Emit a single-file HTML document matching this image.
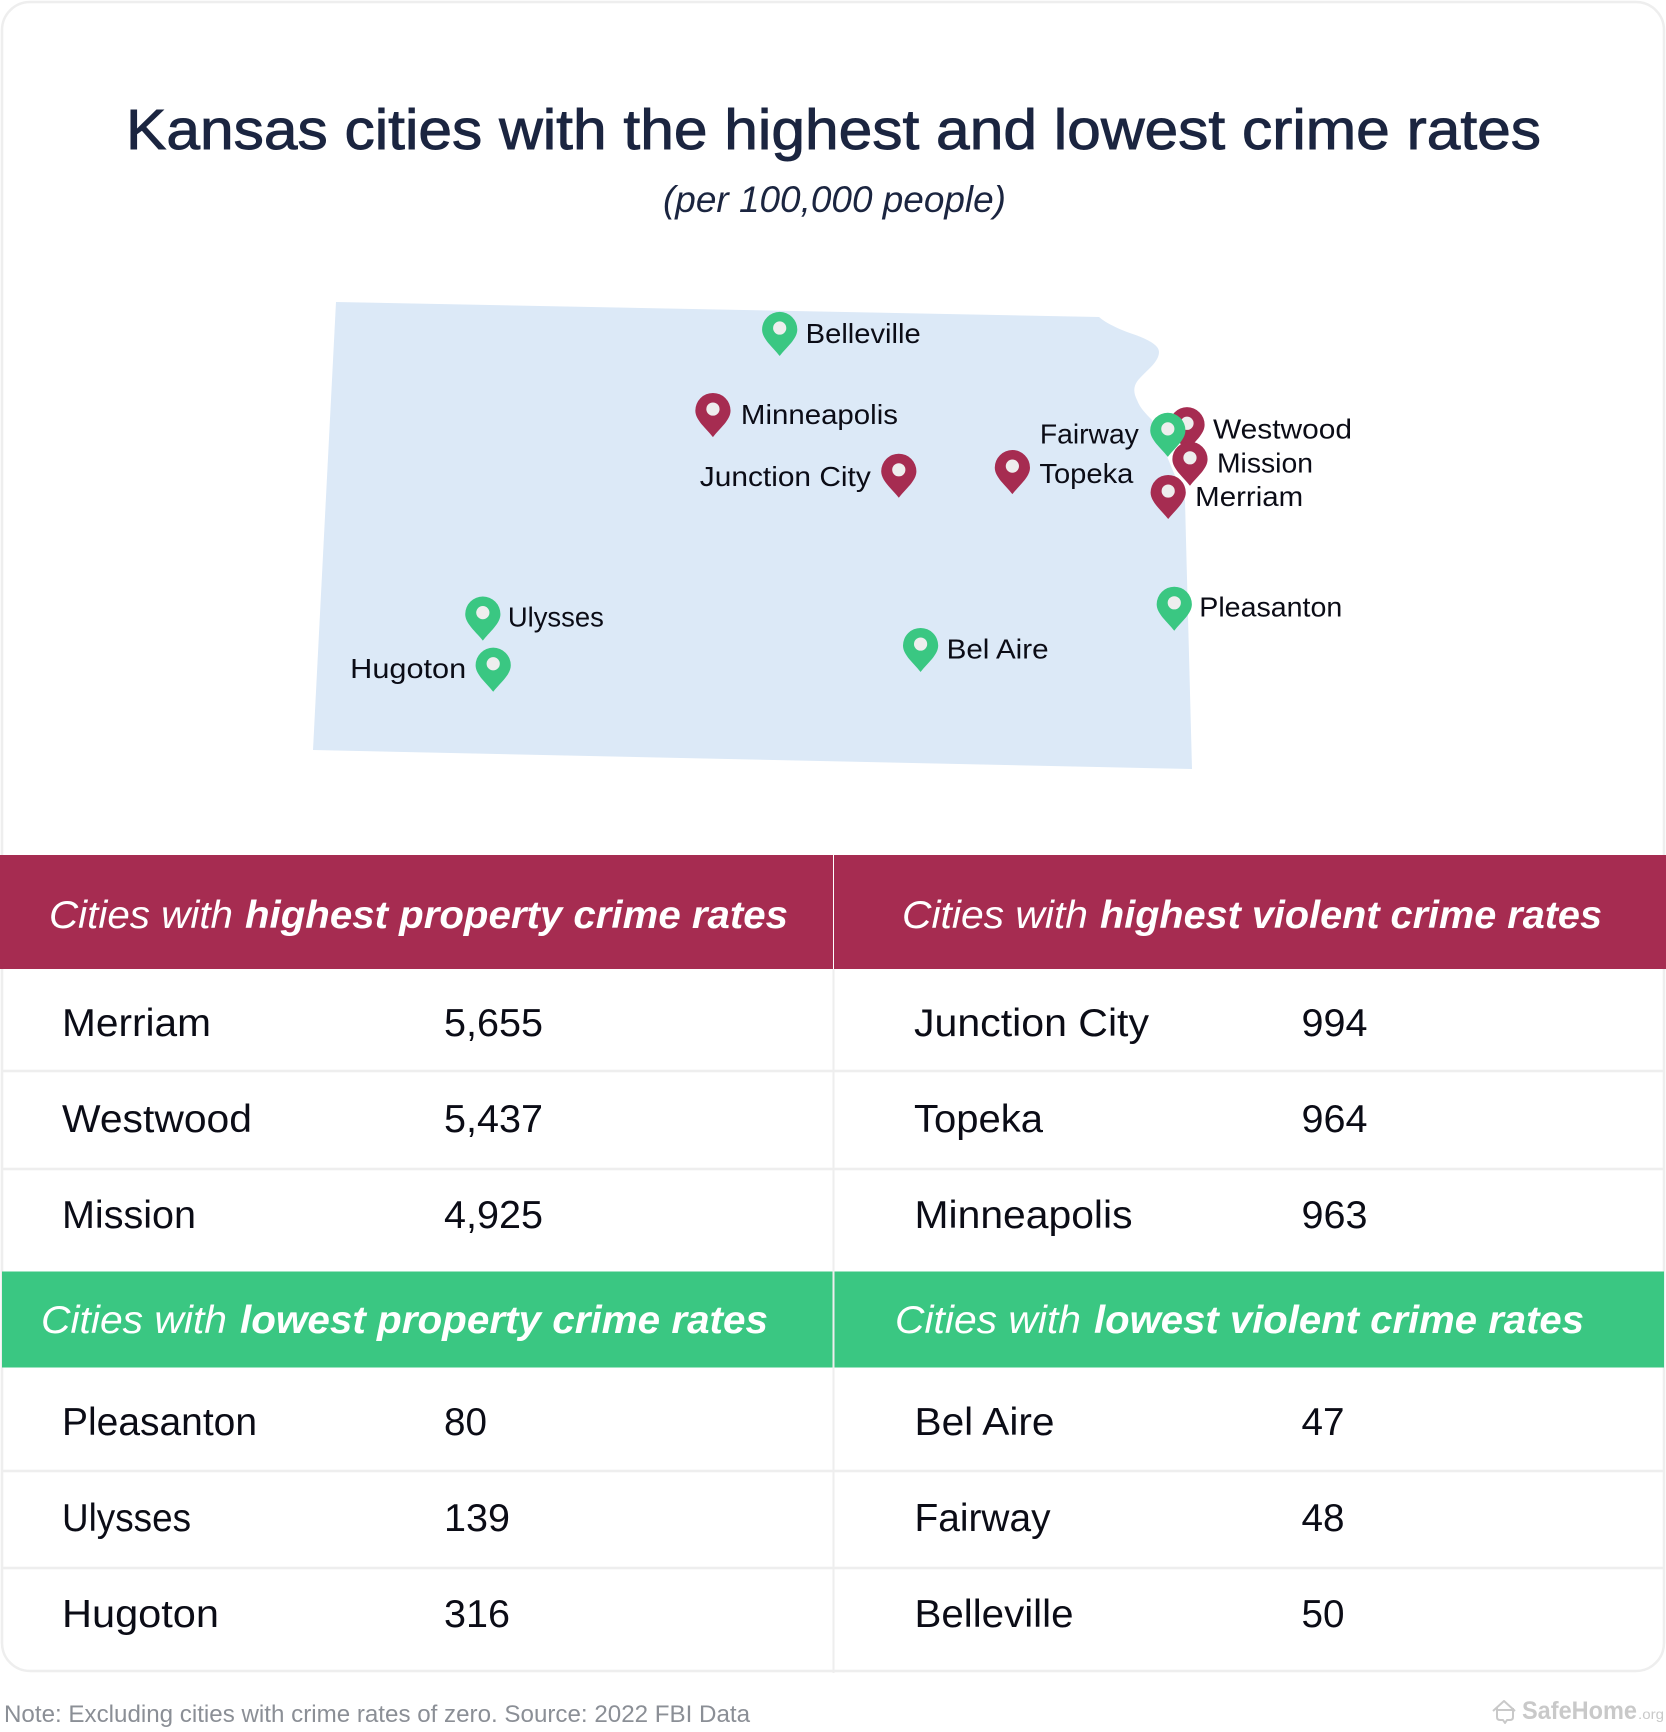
<!DOCTYPE html>
<html lang="en">
<head>
<meta charset="utf-8">
<title>Kansas cities with the highest and lowest crime rates</title>
<style>
  html, body { margin: 0; padding: 0; background: #fff; }
  svg { display: block; font-family: "Liberation Sans", sans-serif; }
  .row-text { font-size: 38.5px; fill: #0b0c16; }
  .head { font-size: 38.5px; font-style: italic; fill: #fff; }
  .head-bold { font-weight: bold; }
  .rule { stroke: #eeeeee; stroke-width: 2.5; }
</style>
</head>
<body>
<svg id="root" xmlns="http://www.w3.org/2000/svg" width="1666" height="1732" viewBox="0 0 1666 1732">
  <rect width="1666" height="1732" fill="#ffffff"/>
  <rect x="2" y="2" width="1662" height="1669" rx="28" ry="28" fill="#ffffff" stroke="#eeeeee" stroke-width="2.5"/>

  <text x="126" y="149" font-size="57" fill="#1b2540" stroke="#1b2540" stroke-width="0.9" textLength="1415" lengthAdjust="spacingAndGlyphs">Kansas cities with the highest and lowest crime rates</text>
  <text x="663" y="212" font-size="37" font-style="italic" fill="#1b2540" textLength="343" lengthAdjust="spacingAndGlyphs">(per 100,000 people)</text>

  <path fill="#dce9f7" d="M336 302 L1099 317 C1105 322 1112 326 1127 332 C1145 338 1159 344 1159 352 C1159 362 1146 371 1140 378 C1133 385 1133 392 1137 400 C1140 408 1146 414 1152 420 L1185 500 L1186 540 L1192 769 L313 750 Z"/>
  <g id="pins"></g>

  <rect x="0" y="855" width="833" height="114" fill="#a62c51"/>
  <rect x="834" y="855" width="832" height="114" fill="#a62c51"/>
  <rect x="2" y="1271.5" width="831" height="96" fill="#3ac782"/>
  <rect x="834" y="1271.5" width="830" height="96" fill="#3ac782"/>

  <line x1="833.5" y1="969" x2="833.5" y2="1673" stroke="#eeeeee" stroke-width="2"/>
  <line class="rule" x1="2" y1="1071" x2="1664" y2="1071"/>
  <line class="rule" x1="2" y1="1169" x2="1664" y2="1169"/>
  <line class="rule" x1="2" y1="1471" x2="1664" y2="1471"/>
  <line class="rule" x1="2" y1="1568" x2="1664" y2="1568"/>

  <text class="head" y="928"><tspan x="49" textLength="184" lengthAdjust="spacingAndGlyphs">Cities with</tspan><tspan class="head-bold" x="245" textLength="543" lengthAdjust="spacingAndGlyphs">highest property crime rates</tspan></text>
  <text class="head" y="928"><tspan x="902" textLength="186" lengthAdjust="spacingAndGlyphs">Cities with</tspan><tspan class="head-bold" x="1100" textLength="502" lengthAdjust="spacingAndGlyphs">highest violent crime rates</tspan></text>
  <text class="head" y="1333"><tspan x="41" textLength="186" lengthAdjust="spacingAndGlyphs">Cities with</tspan><tspan class="head-bold" x="240" textLength="528" lengthAdjust="spacingAndGlyphs">lowest property crime rates</tspan></text>
  <text class="head" y="1333"><tspan x="895" textLength="186" lengthAdjust="spacingAndGlyphs">Cities with</tspan><tspan class="head-bold" x="1094" textLength="490" lengthAdjust="spacingAndGlyphs">lowest violent crime rates</tspan></text>

  <g>
    <text class="row-text" x="62" y="1036" textLength="149" lengthAdjust="spacingAndGlyphs">Merriam</text>
    <text class="row-text" x="444" y="1036" textLength="99" lengthAdjust="spacingAndGlyphs">5,655</text>
    <text class="row-text" x="62" y="1132" textLength="190" lengthAdjust="spacingAndGlyphs">Westwood</text>
    <text class="row-text" x="444" y="1132" textLength="99" lengthAdjust="spacingAndGlyphs">5,437</text>
    <text class="row-text" x="62" y="1228" textLength="134" lengthAdjust="spacingAndGlyphs">Mission</text>
    <text class="row-text" x="444" y="1228" textLength="99" lengthAdjust="spacingAndGlyphs">4,925</text>
  </g>
  <g>
    <text class="row-text" x="914" y="1036" textLength="235" lengthAdjust="spacingAndGlyphs">Junction City</text>
    <text class="row-text" x="1301.5" y="1036" textLength="66" lengthAdjust="spacingAndGlyphs">994</text>
    <text class="row-text" x="914" y="1132" textLength="129" lengthAdjust="spacingAndGlyphs">Topeka</text>
    <text class="row-text" x="1301.5" y="1132" textLength="66" lengthAdjust="spacingAndGlyphs">964</text>
    <text class="row-text" x="914.5" y="1228" textLength="218" lengthAdjust="spacingAndGlyphs">Minneapolis</text>
    <text class="row-text" x="1301.5" y="1228" textLength="66" lengthAdjust="spacingAndGlyphs">963</text>
  </g>
  <g>
    <text class="row-text" x="62" y="1435" textLength="195" lengthAdjust="spacingAndGlyphs">Pleasanton</text>
    <text class="row-text" x="444" y="1435" textLength="43" lengthAdjust="spacingAndGlyphs">80</text>
    <text class="row-text" x="62" y="1531" textLength="129" lengthAdjust="spacingAndGlyphs">Ulysses</text>
    <text class="row-text" x="444" y="1531" textLength="66" lengthAdjust="spacingAndGlyphs">139</text>
    <text class="row-text" x="62" y="1627" textLength="157" lengthAdjust="spacingAndGlyphs">Hugoton</text>
    <text class="row-text" x="444" y="1627" textLength="66" lengthAdjust="spacingAndGlyphs">316</text>
  </g>
  <g>
    <text class="row-text" x="914.5" y="1435" textLength="140" lengthAdjust="spacingAndGlyphs">Bel Aire</text>
    <text class="row-text" x="1301.5" y="1435" textLength="43" lengthAdjust="spacingAndGlyphs">47</text>
    <text class="row-text" x="914.5" y="1531" textLength="136" lengthAdjust="spacingAndGlyphs">Fairway</text>
    <text class="row-text" x="1301.5" y="1531" textLength="43" lengthAdjust="spacingAndGlyphs">48</text>
    <text class="row-text" x="914.5" y="1627" textLength="159" lengthAdjust="spacingAndGlyphs">Belleville</text>
    <text class="row-text" x="1301.5" y="1627" textLength="43" lengthAdjust="spacingAndGlyphs">50</text>
  </g>

  <text x="4" y="1722" font-size="24" fill="#8b8f96" textLength="746" lengthAdjust="spacingAndGlyphs">Note: Excluding cities with crime rates of zero. Source: 2022 FBI Data</text>

  <g>
    <path fill="none" stroke="#c9c9c9" stroke-width="2" stroke-linejoin="round" d="M1493 1711 L1504 1701 L1515 1711 M1497 1708 L1497 1717 Q1497 1720 1500 1720 L1503 1720 L1505 1723 L1507 1720 L1510 1720 Q1513 1720 1513 1717 L1513 1708 M1497 1710 L1513 1710"/>
    <text x="1522" y="1719" font-size="25" font-weight="bold" fill="#c9c9c9" textLength="115" lengthAdjust="spacingAndGlyphs">SafeHome</text>
    <text x="1638" y="1719" font-size="14" fill="#c9c9c9" textLength="26" lengthAdjust="spacingAndGlyphs">.org</text>
  </g>
</svg>

<script>
// Map data, in drawing order
const cityNames = ["Westwood", "Mission", "Merriam", "Topeka", "Junction City", "Minneapolis", "Belleville", "Ulysses", "Hugoton", "Bel Aire", "Pleasanton", "Fairway"];
const cityLon = [-94.78, -94.74, -94.91, -96.24, -97.20, -98.80, -98.27, -100.66, -100.55, -96.94, -94.81, -94.94];
const cityLat = [39.12, 38.89, 38.665, 38.81, 38.77, 39.15, 39.70, 37.76, 37.42, 37.61, 37.92, 39.08];
const cityGroup = ["high", "high", "high", "high", "high", "high", "low", "low", "low", "low", "low", "low"];

// Axis functions: geographic coordinates to page pixels (slightly tilted map)
function unitX(lon) { return (lon + 102.05) / 7.45; }
function unitY(lat) { return (40 - lat) / 3; }
function projectX(lon, lat) { return 336 + 879 * unitX(lon) - 23 * unitY(lat); }
function projectY(lon, lat) { return 302 + 18 * unitX(lon) + 449 * unitY(lat); }

function drawPins() {
  const NS = "http://www.w3.org/2000/svg";
  const layer = document.getElementById("pins");
  const colors = { high: "#a62c51", low: "#3ac782" };
  // Label placement relative to the pin tip: [dx, dy, width, anchor]
  const labelLayout = {
    "Westwood": [26, -13, 139, "start"],
    "Mission": [27, -13.5, 96, "start"],
    "Merriam": [27, -13, 108, "start"],
    "Topeka": [27, -11, 94, "start"],
    "Junction City": [-28, -12, 171, "end"],
    "Minneapolis": [28, -13, 157, "start"],
    "Belleville": [26, -13, 115, "start"],
    "Ulysses": [25, -14, 96, "start"],
    "Hugoton": [-27, -14, 116, "end"],
    "Bel Aire": [26, -13.3, 102, "start"],
    "Pleasanton": [25, -14.3, 143, "start"],
    "Fairway": [-29, -13.5, 99, "end"]
  };
  const labels = [];
  cityNames.forEach(function (name, i) {
    const x = projectX(cityLon[i], cityLat[i]);
    const y = projectY(cityLon[i], cityLat[i]);
    const slug = name.toLowerCase().replace(/\s+/g, "-");

    const pin = document.createElementNS(NS, "g");
    pin.setAttribute("transform", "translate(" + x + " " + y + ")");
    
    

    const body = document.createElementNS(NS, "path");
    body.setAttribute("d", "M0 0 C-7 -9 -17.6 -17 -17.6 -26.5 A17.6 17.6 0 1 1 17.6 -26.5 C17.6 -17 7 -9 0 0 Z");
    body.setAttribute("fill", colors[cityGroup[i]]);
    
    
    pin.appendChild(body);

    const dot = document.createElementNS(NS, "circle");
    dot.setAttribute("cx", "0");
    dot.setAttribute("cy", "-28");
    dot.setAttribute("r", "6.6");
    dot.setAttribute("fill", "#eeeeee");
    
    
    pin.appendChild(dot);
    layer.appendChild(pin);

    const place = labelLayout[name];
    const label = document.createElementNS(NS, "text");
    label.textContent = name;
    label.setAttribute("x", x + place[0]);
    label.setAttribute("y", y + place[1]);
    label.setAttribute("text-anchor", place[3]);
    label.setAttribute("font-size", "28");
    label.setAttribute("fill", "#0b0c16");
    label.setAttribute("textLength", place[2]);
    label.setAttribute("lengthAdjust", "spacingAndGlyphs");
    
    
    labels.push(label);
  });
  labels.forEach(function (label) { layer.appendChild(label); });
}
drawPins();
</script>
</body>
</html>
